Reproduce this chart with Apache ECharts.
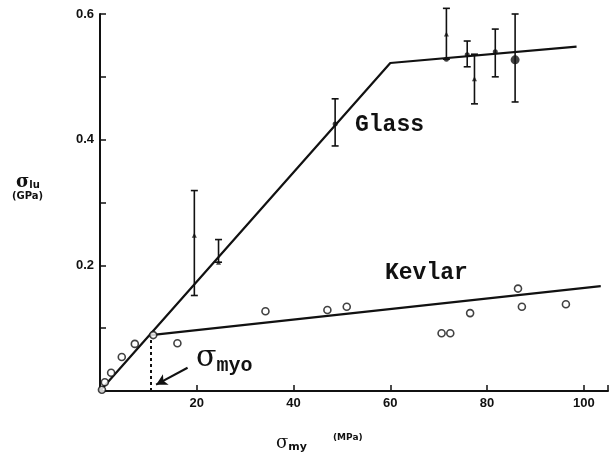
<!DOCTYPE html>
<html>
<head>
<meta charset="utf-8">
<script src="https://cdn.jsdelivr.net/npm/echarts@6/dist/echarts.min.js"></script>
<style>html,body{margin:0;padding:0;background:#fff}#c{width:611px;height:460px}</style>
</head>
<body>
<div id="c"></div>
<script>
// ---- data ----
var xLabels = [20, 40, 60, 80, 100];
var yLabels = [0.2, 0.4, 0.6];

var glassFitX = [0, 60, 98.5];
var glassFitY = [0, 0.522, 0.548];
var kevlarFitX = [10.5, 103.5];
var kevlarFitY = [0.089, 0.167];

var glassX    = [19.5, 24.5, 48.6, 71.6, 75.9, 77.4, 81.7, 85.8];
var glassLow  = [0.152, 0.205, 0.390, 0.528, 0.516, 0.457, 0.500, 0.460];
var glassHigh = [0.319, 0.241, 0.465, 0.609, 0.557, 0.536, 0.576, 0.600];

var glassTriX = [19.5, 24.5, 71.6, 77.4];
var glassTriY = [0.248, 0.205, 0.568, 0.497];
var glassDotX = [48.6, 71.6, 75.9, 81.7];
var glassDotY = [0.425, 0.528, 0.535, 0.540];
var glassBigX = [85.8];
var glassBigY = [0.527];

var kevlarX = [0.4, 1.0, 2.3, 4.5, 7.2, 11.0, 16.0, 34.2, 47.0, 51.0, 70.6, 72.4, 76.5, 86.4, 87.2, 96.3];
var kevlarY = [0.002, 0.014, 0.029, 0.054, 0.075, 0.089, 0.076, 0.127, 0.129, 0.134, 0.092, 0.092, 0.124, 0.163, 0.134, 0.138];

var myoX = 10.5;
var myoY = 0.089;

function zip(a, b) { return a.map(function (v, i) { return [v, b[i]]; }); }

var chart = echarts.init(document.getElementById('c'));
var ink = '#111';

chart.setOption({
  animation: false,
  backgroundColor: '#fff',
  grid: { left: 100, right: 1, top: 14, bottom: 69 },
  xAxis: {
    type: 'value', min: 0, max: 105, interval: 20,
    axisLine: { lineStyle: { color: ink, width: 2 } },
    axisTick: { show: true, inside: true, length: 6, lineStyle: { color: ink, width: 1.5 } },
    axisLabel: { color: ink, fontFamily: 'Liberation Sans', fontWeight: 'bold', fontSize: 13, margin: 6,
      formatter: function (v) { return xLabels.indexOf(v) >= 0 ? String(v) : ''; } },
    splitLine: { show: false }
  },
  yAxis: {
    type: 'value', min: 0, max: 0.6, interval: 0.1,
    axisLine: { lineStyle: { color: ink, width: 2 } },
    axisTick: { show: true, inside: true, length: 6, lineStyle: { color: ink, width: 1.5 } },
    axisLabel: { color: ink, fontFamily: 'Liberation Sans', fontWeight: 'bold', fontSize: 13, margin: 6,
      formatter: function (v) {
        for (var i = 0; i < yLabels.length; i++) { if (Math.abs(yLabels[i] - v) < 1e-6) return String(yLabels[i]); }
        return '';
      } },
    splitLine: { show: false }
  },
  graphic: [
    { type: 'text', style: { x: 355, y: 125, text: 'Glass', font: 'bold 23px "Liberation Mono"', fill: ink, verticalAlign: 'middle' } },
    { type: 'text', style: { x: 385, y: 273, text: 'Kevlar', font: 'bold 23px "Liberation Mono"', fill: ink, verticalAlign: 'middle' } },
    { type: 'text', style: { x: 196, y: 358, text: '{s|σ}{m|myo}', fill: ink, verticalAlign: 'middle',
        rich: { s: { font: '30px "DejaVu Serif"', fill: ink }, m: { font: 'bold 20px "Liberation Mono"', fill: ink, padding: [16, 0, 0, 0] } } } },
    { type: 'text', style: { x: 16, y: 182, text: '{s|σ}{m|lu}', fill: ink, verticalAlign: 'middle',
        rich: { s: { font: 'bold 18px "DejaVu Serif"', fill: ink }, m: { font: 'bold 10px "DejaVu Sans"', fill: ink, padding: [6, 0, 0, 0] } } } },
    { type: 'text', style: { x: 12, y: 196, text: '(GPa)', font: 'bold 10px "DejaVu Sans"', fill: ink, verticalAlign: 'middle' } },
    { type: 'text', style: { x: 276, y: 443, text: '{s|σ}{m|my}', fill: ink, verticalAlign: 'middle',
        rich: { s: { font: '18px "DejaVu Serif"', fill: ink }, m: { font: 'bold 11px "DejaVu Sans"', fill: ink, padding: [8, 0, 0, 0] } } } },
    { type: 'text', style: { x: 333, y: 438, text: '(MPa)', font: 'bold 9px "DejaVu Sans"', fill: ink, verticalAlign: 'middle' } }
  ],
  series: [
    { type: 'line', data: zip(glassFitX, glassFitY), symbol: 'none', lineStyle: { color: ink, width: 2.2 }, z: 3 },
    { type: 'line', data: zip(kevlarFitX, kevlarFitY), symbol: 'none', lineStyle: { color: ink, width: 2.2 }, z: 3,
      markLine: {
        silent: true, symbol: ['none', 'none'], label: { show: false },
        lineStyle: { color: ink, width: 2, type: [3, 3] },
        data: [[{ coord: [myoX, 0] }, { coord: [myoX, myoY] }]]
      } },
    { type: 'line', data: [], symbol: 'none',
      markLine: {
        silent: true, symbol: ['none', 'arrow'], symbolSize: [9, 11], label: { show: false },
        lineStyle: { color: ink, width: 2, type: 'solid' },
        data: [[{ coord: [18.1, 0.037] }, { coord: [11.6, 0.01] }]]
      } },
    { type: 'custom',
      data: glassX.map(function (x, i) { return [x, glassLow[i], glassHigh[i]]; }),
      renderItem: function (params, api) {
        var lo = api.coord([api.value(0), api.value(1)]);
        var hi = api.coord([api.value(0), api.value(2)]);
        var st = { stroke: ink, lineWidth: 1.6 };
        return { type: 'group', children: [
          { type: 'line', shape: { x1: lo[0], y1: lo[1], x2: hi[0], y2: hi[1] }, style: st },
          { type: 'line', shape: { x1: lo[0] - 3.5, y1: lo[1], x2: lo[0] + 3.5, y2: lo[1] }, style: st },
          { type: 'line', shape: { x1: hi[0] - 3.5, y1: hi[1], x2: hi[0] + 3.5, y2: hi[1] }, style: st }
        ] };
      }, z: 4 },
    { type: 'scatter', data: zip(glassTriX, glassTriY), symbol: 'triangle', symbolSize: 5, itemStyle: { color: ink }, z: 5 },
    { type: 'scatter', data: zip(glassDotX, glassDotY), symbol: 'circle', symbolSize: 5, itemStyle: { color: ink }, z: 5 },
    { type: 'scatter', data: zip(glassBigX, glassBigY), symbol: 'circle', symbolSize: 9, itemStyle: { color: ink }, z: 5 },
    { type: 'scatter', data: zip(kevlarX, kevlarY), symbol: 'circle', symbolSize: 7,
      itemStyle: { color: '#fff', borderColor: ink, borderWidth: 1.6 }, z: 6 }
  ]
});
</script>
</body>
</html>
